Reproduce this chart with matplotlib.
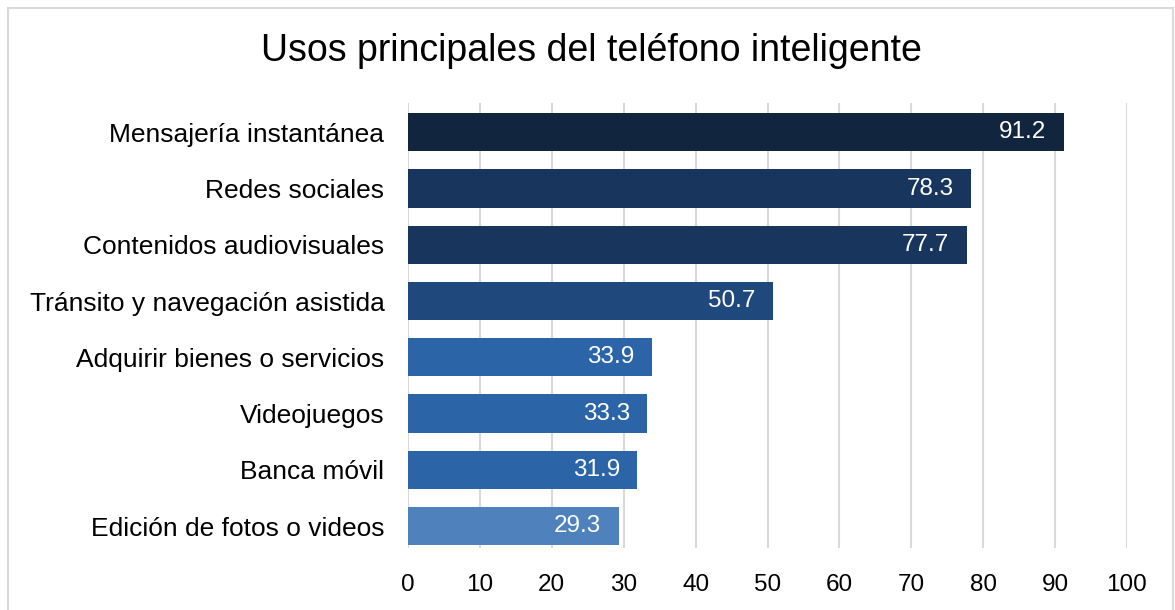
import matplotlib.pyplot as plt
from matplotlib.patches import Rectangle

categorias = ['Mensajería instantánea', 'Redes sociales', 'Contenidos audiovisuales',
              'Tránsito y navegación asistida', 'Adquirir bienes o servicios',
              'Videojuegos', 'Banca móvil', 'Edición de fotos o videos']
valores = [91.2, 78.3, 77.7, 50.7, 33.9, 33.3, 31.9, 29.3]
colores = ['#12253f', '#18365d', '#18365d', '#1f497d', '#2b65a8', '#2b65a8', '#2b65a8', '#4f81bd']
ticks = [0, 10, 20, 30, 40, 50, 60, 70, 80, 90, 100]

plt.rcParams['font.family'] = ['Liberation Sans', 'DejaVu Sans']

fig = plt.figure(figsize=(11.75, 6.1), dpi=100)
ax = fig.add_axes([408/1175, 1 - 548/610, (1127 - 408)/1175, (548 - 103)/610])

y = list(range(len(categorias)))
ax.barh(y, valores, height=0.68, color=colores, zorder=3)
for yi, v in zip(y, valores):
    ax.text(v - 2.4, yi, f'{v:.1f}', color='white', fontsize=17.5,
            ha='right', va='center', zorder=4)

ax.set_yticks(y)
ax.set_yticklabels(categorias, fontsize=19)
ax.set_ylim(7.39, -0.52)
ax.set_xlim(0, 100)
ax.set_xticks(ticks)
ax.set_xticklabels([str(t) for t in ticks], fontsize=17.5)
ax.tick_params(axis='x', length=0, pad=19)
ax.tick_params(axis='y', length=0, pad=17)
ax.grid(axis='x', color='#d9d9d9', linewidth=1.5, zorder=0)
for s in ax.spines.values():
    s.set_visible(False)

fig.text(591/1175, 1 - 51/610, 'Usos principales del teléfono inteligente',
         fontsize=27, ha='center', va='center')

fig.patches.append(Rectangle((8/1175, -0.05), (1173 - 8)/1175, 1 - 8/610 + 0.05,
                             transform=fig.transFigure, fill=False,
                             edgecolor='#d9d9d9', linewidth=1.5))

fig.savefig('out.png', dpi=100)
